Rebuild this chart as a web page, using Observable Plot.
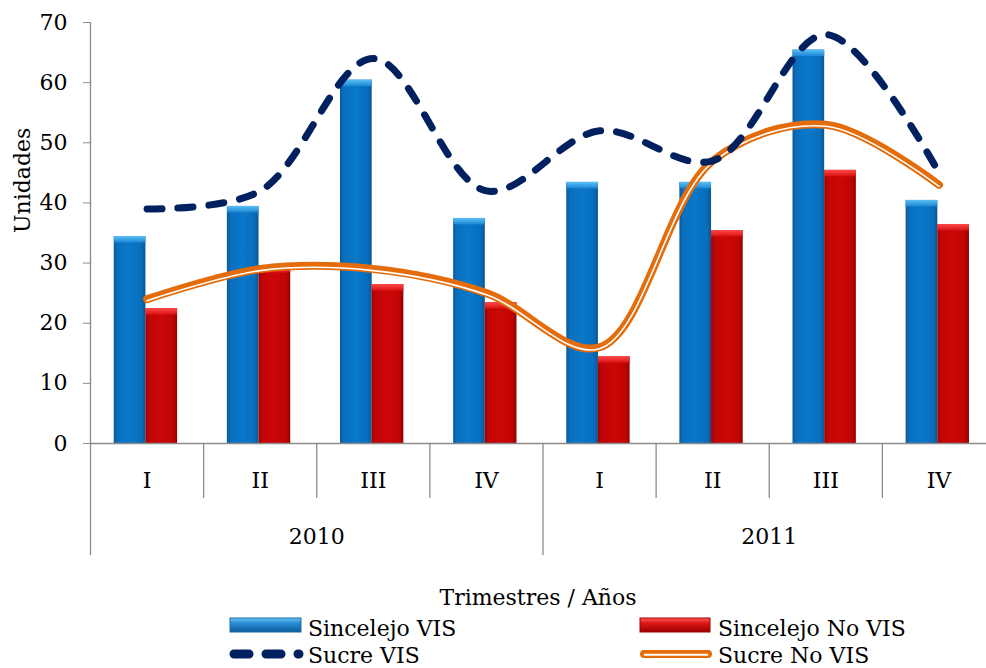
<!DOCTYPE html>
<html>
<head>
<meta charset="utf-8">
<script src="https://cdn.jsdelivr.net/npm/d3@7"></script>
<script src="https://cdn.jsdelivr.net/npm/@observablehq/plot@0.6"></script>
<style>
  html, body { margin: 0; padding: 0; background: #fff; }
  #wrap { position: relative; width: 986px; height: 668px; overflow: hidden; font-family: 'DejaVu Serif', serif; }
  #chart { position: absolute; left: 0; top: 0; }
  #overlay { position: absolute; left: 0; top: 0; }
</style>
</head>
<body>
<div id="wrap">
  <div id="chart"></div>
  <svg id="overlay" width="986" height="668"></svg>
</div>
<script>
// ---- data ----
const quarters = ["I", "II", "III", "IV", "I", "II", "III", "IV"];
const years = ["2010", "2011"];
const sincelejoVIS = [34, 39, 60, 37, 43, 43, 65, 40];
const sincelejoNoVIS = [22, 29, 26, 23, 14, 35, 45, 36];
const sucreVIS = [39, 42, 64, 42, 52, 47, 68, 45];
const sucreNoVIS = [24, 29, 29, 25, 16, 47, 53, 43];
const seriesNames = ["Sincelejo VIS", "Sincelejo No VIS", "Sucre VIS", "Sucre No VIS"];
const yTicks = [0, 10, 20, 30, 40, 50, 60, 70];
const xTitle = "Trimestres / Años";
const yTitle = "Unidades";

const data = quarters.map((q, i) => ({
  i, q, year: years[Math.floor(i / 4)],
  sv: sincelejoVIS[i], snv: sincelejoNoVIS[i], cv: sucreVIS[i], cnv: sucreNoVIS[i]
}));
const yearData = years.map((y, k) => ({ k, y }));
const bounds = d3.range(0, quarters.length + 1);

const font = "'DejaVu Serif', serif";
const grey = "#8c8c8c";

const chart = Plot.plot({
  width: 986,
  height: 560,
  marginTop: 22,
  marginBottom: 117,
  marginLeft: 90,
  marginRight: 0,
  x: { domain: [0, 8], range: [90, 995], axis: null },
  y: { domain: [0, 70], range: [443, 22] },
  style: { fontFamily: font, fontSize: "22px", color: "#000", background: "transparent", overflow: "visible" },
  marks: [
    // bars (slight bevel lip on top)
    Plot.rect(data, { x1: d => d.i + 0.21, x2: d => d.i + 0.49, y1: 0, y2: "sv", insetTop: -2.5, fill: "url(#gBlue)", ariaLabel: "bars-blue" }),
    Plot.rect(data, { x1: d => d.i + 0.49, x2: d => d.i + 0.77, y1: 0, y2: "snv", insetTop: -2.5, fill: "url(#gRed)", ariaLabel: "bars-red" }),
    Plot.rect(data, { x1: d => d.i + 0.21, x2: d => d.i + 0.49, y1: "sv", y2: "sv", insetTop: -2.5, insetBottom: -4, fill: "url(#gBlueTop)" }),
    Plot.rect(data, { x1: d => d.i + 0.49, x2: d => d.i + 0.77, y1: "snv", y2: "snv", insetTop: -2.5, insetBottom: -4, fill: "url(#gRedTop)" }),
    // axes
    Plot.ruleY([0], { x1: 0, x2: 8, stroke: grey, strokeWidth: 1.3 }),
    Plot.ruleX([0], { y1: 0, y2: 70, stroke: grey, strokeWidth: 1.3 }),
    Plot.axisY({ ticks: yTicks, tickSize: 7, tickPadding: 16, stroke: grey, fill: "#000", fontSize: 22, label: null }),
    Plot.ruleX(bounds.filter(b => b % 4 !== 0), { x: d => d, y1: 0, y2: 0, insetBottom: -55, stroke: grey, strokeWidth: 1.3 }),
    Plot.ruleX(bounds.filter(b => b % 4 === 0), { x: d => d, y1: 0, y2: 0, insetBottom: -112, stroke: grey, strokeWidth: 1.3 }),
    Plot.text(data, { x: d => d.i + 0.5, y: 0, dy: 37, text: "q", fontSize: 22, fill: "#000" }),
    Plot.text(yearData, { x: d => d.k * 4 + 2, y: 0, dy: 93, text: "y", fontSize: 22, fill: "#000" }),
    Plot.text([yTitle], { frameAnchor: "left", rotate: -90, dx: -68, fontSize: 22, fill: "#000" }),
    // lines
    Plot.line(data, { x: d => d.i + 0.5, y: "cnv", curve: "catmull-rom", stroke: "#E46C0A", strokeWidth: 8, strokeLinecap: "round", strokeLinejoin: "round" }),
    Plot.line(data, { x: d => d.i + 0.5, y: "cnv", curve: "catmull-rom", stroke: "#fff", strokeWidth: 1.6, dy: 1.5, strokeLinecap: "round" }),
    Plot.line(data, { x: d => d.i + 0.5, y: "cv", curve: "catmull-rom", stroke: "#002060", strokeWidth: 7, strokeDasharray: "15,16", strokeLinecap: "round" })
  ]
});
document.getElementById("chart").appendChild(chart);

// ---- gradients and filters ----
const ov = d3.select("#overlay");
const defs = ov.append("defs");
function hGrad(id, stops) {
  const g = defs.append("linearGradient").attr("id", id).attr("x1", 0).attr("x2", 1).attr("y1", 0).attr("y2", 0);
  stops.forEach(([o, c]) => g.append("stop").attr("offset", o).attr("stop-color", c));
}
function vGrad(id, stops) {
  const g = defs.append("linearGradient").attr("id", id).attr("x1", 0).attr("x2", 0).attr("y1", 0).attr("y2", 1);
  stops.forEach(([o, c]) => g.append("stop").attr("offset", o).attr("stop-color", c));
}
hGrad("gBlue", [[0, "#0a5a9a"], [0.12, "#0a6fbe"], [0.5, "#0a78c9"], [0.88, "#076dbb"], [1, "#0a5590"]]);
hGrad("gRed", [[0, "#9c0000"], [0.12, "#c00404"], [0.5, "#cc0808"], [0.88, "#bf0404"], [1, "#900000"]]);
vGrad("gBlueTop", [[0, "#5cc0f5"], [1, "#1a86d4"]]);
vGrad("gRedTop", [[0, "#ff4a4a"], [1, "#d81010"]]);
vGrad("gBlueLeg", [[0, "#6cc4f5"], [0.35, "#2a8fd8"], [1, "#0a5a9a"]]);
vGrad("gRedLeg", [[0, "#ff5a5a"], [0.35, "#e01818"], [1, "#9a0000"]]);
const f = defs.append("filter").attr("id", "shadow").attr("x", "-10%").attr("y", "-10%").attr("width", "140%").attr("height", "130%");
f.append("feDropShadow").attr("dx", 3).attr("dy", 1).attr("stdDeviation", 2).attr("flood-color", "#000").attr("flood-opacity", 0.28);
d3.select(chart).selectAll('g[aria-label="bars-blue"], g[aria-label="bars-red"]').attr("filter", "url(#shadow)");

// ---- x title and legend ----
ov.append("text").attr("x", 538).attr("y", 605).attr("text-anchor", "middle")
  .attr("font-family", font).attr("font-size", 22).text(xTitle);

const legY1 = 625, legY2 = 654;
// Sincelejo VIS
ov.append("rect").attr("x", 230).attr("y", legY1 - 7).attr("width", 71).attr("height", 14)
  .attr("fill", "url(#gBlueLeg)").attr("stroke", "#1b6aa8").attr("stroke-width", 1);
ov.append("text").attr("x", 308).attr("y", legY1 + 11).attr("font-family", font).attr("font-size", 22).text(seriesNames[0]);
// Sincelejo No VIS
ov.append("rect").attr("x", 640).attr("y", legY1 - 7).attr("width", 70).attr("height", 14)
  .attr("fill", "url(#gRedLeg)").attr("stroke", "#a00000").attr("stroke-width", 1);
ov.append("text").attr("x", 718).attr("y", legY1 + 11).attr("font-family", font).attr("font-size", 22).text(seriesNames[1]);
// Sucre VIS
ov.append("line").attr("x1", 234).attr("x2", 299).attr("y1", legY2).attr("y2", legY2)
  .attr("stroke", "#002060").attr("stroke-width", 9).attr("stroke-linecap", "round").attr("stroke-dasharray", "15,17");
ov.append("text").attr("x", 308).attr("y", legY2 + 9).attr("font-family", font).attr("font-size", 22).text(seriesNames[2]);
// Sucre No VIS
ov.append("line").attr("x1", 644).attr("x2", 708).attr("y1", legY2).attr("y2", legY2)
  .attr("stroke", "#E46C0A").attr("stroke-width", 8).attr("stroke-linecap", "round");
ov.append("line").attr("x1", 644).attr("x2", 708).attr("y1", legY2 + 0.8).attr("y2", legY2 + 0.8)
  .attr("stroke", "#fff").attr("stroke-width", 2);
ov.append("text").attr("x", 718).attr("y", legY2 + 9).attr("font-family", font).attr("font-size", 22).text(seriesNames[3]);
</script>
</body>
</html>
